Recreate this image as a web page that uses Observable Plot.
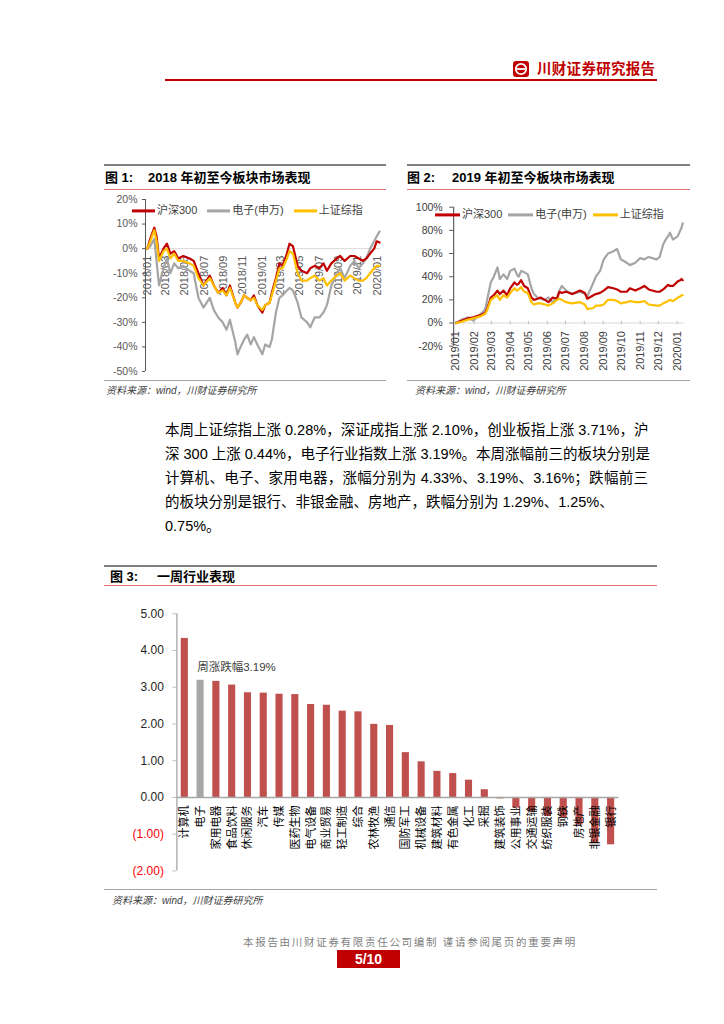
<!DOCTYPE html>
<html lang="zh-CN">
<head>
<meta charset="utf-8">
<title>川财证券研究报告</title>
<script src="https://cdn.jsdelivr.net/npm/d3@7"></script>
<script src="https://cdn.jsdelivr.net/npm/@observablehq/plot@0.6"></script>
<style>
html,body{margin:0;padding:0;background:#fff;}
#page{position:relative;width:724px;height:1024px;overflow:hidden;background:#fff;font-family:"Liberation Sans",Arial,"Noto Sans CJK SC",sans-serif;color:#000;}
.t{position:absolute;white-space:nowrap;line-height:1.2;transform:translateY(-50%);}
.chart{position:absolute;}
.chart svg{overflow:visible;display:block;}
.para{position:absolute;left:165px;width:483px;font-size:14.5px;line-height:1.2;white-space:nowrap;transform:translateY(-50%);}
.just{text-align:justify;text-align-last:justify;}
</style>
</head>
<body>
<div id="page"></div>
<script>
// ---------------- DATA ----------------
const seriesNames = ["沪深300", "电子(申万)", "上证综指"];
const seriesColors = ["#c00000", "#a5a5a5", "#ffc000"];

// Figure 1: cumulative change since start of 2018 (%)
const fig1Dates = ["2018-01-02","2018-01-11","2018-01-24","2018-01-31","2018-02-08","2018-02-22","2018-03-05","2018-03-16","2018-03-28","2018-04-10","2018-04-26","2018-05-16","2018-05-29","2018-06-13","2018-06-29","2018-07-19","2018-08-01","2018-08-15","2018-08-29","2018-09-10","2018-09-21","2018-10-08","2018-10-15","2018-10-25","2018-11-05","2018-11-15","2018-11-26","2018-12-06","2018-12-17","2019-01-02","2019-01-11","2019-01-25","2019-02-01","2019-02-14","2019-02-25","2019-03-07","2019-03-21","2019-03-29","2019-04-09","2019-04-24","2019-05-06","2019-05-24","2019-06-03","2019-06-17","2019-07-02","2019-07-15","2019-07-26","2019-08-09","2019-08-26","2019-09-06","2019-09-20","2019-10-08","2019-10-21","2019-11-04","2019-11-17","2019-11-28","2019-12-10","2019-12-23","2019-12-31","2020-01-09"];
const fig1HS300 = [0,4,8.5,5,-4,0,2,-2,-1,-4,-3,-4,-5,-10,-15,-11,-15,-18,-16,-19,-15,-22,-24,-22,-19,-20,-21,-19,-23,-26,-23,-22,-18,-12,-6,-7,-2,2,1,-7,-9,-10,-8,-7,-8,-6,-9,-6,-4,-3,-5,-3,-3,-4,-5,-4,-2,0,3,2.5];
const fig1Elec = [0,1,4,-5,-15,-8,-4,-10,-6,-8,-7,-9,-10,-20,-24,-20,-25,-28,-30,-33,-29,-38,-43,-40,-37,-35,-39,-36,-39,-43,-39,-40,-37,-26,-20,-19,-17,-16,-17,-22,-28,-30,-32,-28,-28,-26,-23,-15,-10,-8,-12,-7,-5,-8,-6,-4,0,3,5,7];
const fig1SZZZ = [0,3,7.5,3,-5,-1,0,-4,-2,-5,-5,-6,-7,-12,-15,-12,-15,-18,-17,-19,-16,-22,-24,-22,-19,-20,-21,-20,-23,-25,-23,-22,-19,-13,-8,-8,-4,-1,-2,-10,-13,-13,-12,-11,-13,-12,-15,-13,-11,-10,-13,-11,-12,-13,-13,-12,-10,-8,-7,-7];
const fig1XTicks = ["2018-01-01","2018-03-01","2018-05-01","2018-07-01","2018-09-01","2018-11-01","2019-01-01","2019-03-01","2019-05-01","2019-07-01","2019-09-01","2019-11-01","2020-01-01"];
const fig1YTicks = [20,10,0,-10,-20,-30,-40,-50];
const fig1XDomain = ["2017-12-27","2020-01-12"];

// Figure 2: cumulative change since start of 2019 (%)
const fig2Dates = ["2019-01-02","2019-01-11","2019-01-22","2019-01-30","2019-02-12","2019-02-19","2019-02-22","2019-02-28","2019-03-05","2019-03-11","2019-03-15","2019-03-21","2019-03-27","2019-04-01","2019-04-08","2019-04-12","2019-04-15","2019-04-19","2019-04-24","2019-04-30","2019-05-06","2019-05-10","2019-05-16","2019-05-21","2019-05-28","2019-06-03","2019-06-10","2019-06-17","2019-06-21","2019-06-25","2019-07-02","2019-07-12","2019-07-25","2019-08-02","2019-08-06","2019-08-16","2019-08-20","2019-08-27","2019-09-02","2019-09-09","2019-09-18","2019-09-24","2019-09-30","2019-10-10","2019-10-15","2019-10-24","2019-11-01","2019-11-08","2019-11-15","2019-11-28","2019-12-03","2019-12-09","2019-12-13","2019-12-17","2019-12-20","2019-12-25","2020-01-02","2020-01-06","2020-01-08","2020-01-10"];
const fig2HS300 = [0,2,4,5,7,9,12,22,24,28,25,28,24,30,35,33,34,37,32,30,22,20,21,22,20,18,22,21,27,26,27,25,28,26,21,24,25,26,28,31,30,29,27,27,30,28,30,32,29,27,27,29,31,33,32,32,36,37,38,37];
const fig2Elec = [0,3,5,2,8,12,20,35,40,48,38,42,38,45,47,42,40,45,44,42,30,25,22,21,20,22,18,22,28,32,28,25,27,25,23,35,40,45,55,60,62,64,55,52,50,52,56,55,57,55,57,68,72,75,78,72,75,80,82,86];
const fig2SZZZ = [0,1,3,4,6,8,11,20,22,24,20,24,22,26,30,28,29,31,27,26,18,16,17,17,16,15,17,20,21,20,18,17,18,16,12,13,15,15,16,20,20,19,17,18,19,18,18,19,16,15,15,17,18,19,20,19,22,23,24,24];
const fig2XTicks = ["2019-01-01","2019-02-01","2019-03-01","2019-04-01","2019-05-01","2019-06-01","2019-07-01","2019-08-01","2019-09-01","2019-10-01","2019-11-01","2019-12-01","2020-01-01"];
const fig2YTicks = [100,80,60,40,20,0,-20];
const fig2XDomain = ["2018-12-29","2020-01-12"];

// Figure 3: weekly industry performance (%)
const industries = ["计算机","电子","家用电器","食品饮料","休闲服务","汽车","传媒","医药生物","电气设备","商业贸易","轻工制造","综合","农林牧渔","通信","国防军工","机械设备","建筑材料","有色金属","化工","采掘","建筑装饰","公用事业","交通运输","纺织服装","钢铁","房地产","非银金融","银行"];
const weeklyChange = [4.33,3.19,3.16,3.06,2.85,2.84,2.81,2.80,2.53,2.51,2.35,2.33,1.99,1.96,1.22,0.97,0.71,0.65,0.47,0.21,-0.04,-0.29,-0.38,-0.52,-0.55,-0.75,-1.25,-1.29];
const fig3YTicks = [5,4,3,2,1,0,-1,-2];
const highlightName = "电子";
const annotationText = "周涨跌幅3.19%";

// ---------------- PAGE ----------------
const page = document.getElementById("page");
const fontFam = '"Liberation Sans", Arial, "Noto Sans CJK SC", sans-serif';

function txt(s, x, yc, css, cls = "t") {
  const d = document.createElement("div");
  d.className = cls;
  d.textContent = s;
  d.style.cssText += `left:${x}px;top:${yc}px;` + (css || "");
  page.appendChild(d);
  return d;
}
function hline(x1, x2, y, color, w) {
  const d = document.createElement("div");
  d.style.cssText = `position:absolute;left:${x1}px;top:${y - w / 2}px;width:${x2 - x1}px;height:${w}px;background:${color};`;
  page.appendChild(d);
}
function legend(x, yc, swW, gap, itemGap) {
  const d = document.createElement("div");
  d.style.cssText = `position:absolute;left:${x}px;top:${yc}px;transform:translateY(-50%);display:flex;align-items:center;font-size:11px;color:#404040;white-space:nowrap;line-height:1.2;`;
  seriesNames.forEach((n, i) => {
    const sw = document.createElement("span");
    sw.style.cssText = `display:inline-block;width:${swW}px;height:3px;background:${seriesColors[i]};margin-right:${gap}px;`;
    const tx = document.createElement("span");
    tx.textContent = n;
    tx.style.marginRight = (i < seriesNames.length - 1 ? itemGap : 0) + "px";
    d.appendChild(sw); d.appendChild(tx);
  });
  page.appendChild(d);
}
function mount(svg, x, y) {
  const d = document.createElement("div");
  d.className = "chart";
  d.style.left = x + "px"; d.style.top = y + "px";
  d.appendChild(svg);
  page.appendChild(d);
}

// Header
(function header() {
  const d = document.createElement("div");
  d.style.cssText = "position:absolute;left:513px;top:61px;width:16px;height:16px;";
  d.innerHTML = '<svg width="16" height="16" viewBox="0 0 16 16"><rect x="0" y="0" width="16" height="16" rx="3" fill="#c00000"/><circle cx="8" cy="8" r="5.2" fill="none" stroke="#fff" stroke-width="1.8"/><rect x="4" y="7.1" width="8" height="1.8" fill="#fff"/></svg>';
  page.appendChild(d);
})();
txt("川财证券研究报告", 537, 70, "font-size:14.5px;color:#c00000;font-weight:bold;letter-spacing:0.3px;");
hline(165, 657, 80.3, "#c00000", 2);

// Figure frames and titles
function figFrame(x1, x2, titleNo, titleX, title, titleX2, yTop, yTitle, yRed, ySrcLine, ySrc, srcX) {
  hline(x1, x2, yTop, "#7f7f7f", 1.5);
  txt(titleNo, titleX, yTitle, "font-size:13px;font-weight:bold;");
  txt(title, titleX2, yTitle, "font-size:13px;font-weight:bold;");
  hline(x1, x2, yRed, "#e57373", 1);
  hline(x1, x2, ySrcLine, "#a6a6a6", 1);
  txt("资料来源：wind，川财证券研究所", srcX, ySrc, "font-size:10px;font-style:italic;color:#404040;");
}
figFrame(104, 386, "图 1:", 105, "2018 年初至今板块市场表现", 148, 165, 178, 189.3, 380, 391, 106);
figFrame(407, 690, "图 2:", 407, "2019 年初至今板块市场表现", 452, 165, 178, 189.3, 380, 391, 415);
figFrame(104, 657, "图 3:", 110, "一周行业表现", 157, 566, 577, 585.7, 889.5, 901, 112);

// Paragraph
const paraLines = [
  "本周上证综指上涨 0.28%，深证成指上涨 2.10%，创业板指上涨 3.71%，沪",
  "深 300 上涨 0.44%，电子行业指数上涨 3.19%。本周涨幅前三的板块分别是",
  "计算机、电子、家用电器，涨幅分别为 4.33%、3.19%、3.16%；跌幅前三",
  "的板块分别是银行、非银金融、房地产，跌幅分别为 1.29%、1.25%、",
  "0.75%。"
];
paraLines.forEach((s, i) => {
  txt(s, 165, 431 + i * 24, "", i < 3 ? "para just" : "para");
});

// Footer
txt("本报告由川财证券有限责任公司编制 谨请参阅尾页的重要声明", 243, 942, "font-size:10.5px;color:#7f7f7f;letter-spacing:1.7px;");
(function pageNo() {
  const d = document.createElement("div");
  d.style.cssText = "position:absolute;left:337px;top:950px;width:63px;height:18px;background:#c00000;color:#fff;font-weight:bold;font-size:14px;line-height:18px;text-align:center;";
  d.textContent = "5/10";
  page.appendChild(d);
})();

// ---------------- CHARTS ----------------
const fmtMonth = d3.utcFormat("%Y/%m");
const rows = (dates, arr) => dates.map((d, i) => ({date: new Date(d), value: arr[i]}));
const drawOrder = [1, 0, 2]; // gray underneath, then red, yellow on top

function yAxis(ticks, fmt, opts) {
  if (Plot.axisY) return Plot.axisY({ticks, tickFormat: fmt, label: null, ...opts});
  return Plot.text(ticks, {y: d => d, frameAnchor: "left", textAnchor: "end", dx: -((opts.tickSize || 0) + (opts.tickPadding || 0)), text: fmt, fill: opts.fill, fontSize: opts.fontSize});
}

// Figure 1
{
  const xd = fig1XDomain.map(s => new Date(s));
  const ye = d3.extent(fig1YTicks);
  const series = [fig1HS300, fig1Elec, fig1SZZZ];
  const svg = Plot.plot({
    width: 282, height: 190, marginLeft: 41, marginRight: 6, marginTop: 9, marginBottom: 9,
    x: {type: "utc", domain: xd, axis: null},
    y: {domain: ye, axis: null},
    style: {fontFamily: fontFam, fontSize: "10.5px", background: "transparent", overflow: "visible"},
    marks: [
      Plot.ruleY([0], {stroke: "#d9d9d9", strokeWidth: 1}),
      Plot.text(fig1XTicks.map(s => new Date(s)), {x: d => d, y: () => 0, text: d => fmtMonth(d), rotate: -90, textAnchor: "end", dy: 7, fontSize: 11, fill: "#595959"}),
      ...drawOrder.map(i => Plot.line(rows(fig1Dates, series[i]), {x: "date", y: "value", stroke: seriesColors[i], strokeWidth: 2.2, strokeLinejoin: "round"})),
      Plot.ruleX([xd[0]], {y1: () => ye[0], y2: () => ye[1], stroke: "#595959", strokeWidth: 1}),
      yAxis(fig1YTicks, d => d + "%", {tickSize: 3, tickPadding: 5, fontSize: 10.5, fill: "#595959", stroke: "#595959"})
    ]
  });
  mount(svg, 104, 190);
  legend(132, 211, 23, 2, 10);
}

// Figure 2
{
  const xd = fig2XDomain.map(s => new Date(s));
  const ye = d3.extent(fig2YTicks);
  const series = [fig2HS300, fig2Elec, fig2SZZZ];
  const tickDates = fig2XTicks.map(s => new Date(s));
  const svg = Plot.plot({
    width: 286, height: 180, marginLeft: 49.2, marginRight: 6.6, marginTop: 11.7, marginBottom: 29.3,
    x: {type: "utc", domain: xd, axis: null},
    y: {domain: ye, axis: null},
    style: {fontFamily: fontFam, fontSize: "10.5px", background: "transparent", overflow: "visible"},
    marks: [
      Plot.ruleY([0], {stroke: "#d9d9d9", strokeWidth: 1}),
      Plot.ruleX(tickDates, {x: d => d, y1: () => -1.5, y2: () => 1.5, stroke: "#bfbfbf"}),
      Plot.text(tickDates, {x: d => d, y: () => 0, text: d => fmtMonth(d), rotate: -90, textAnchor: "end", dy: 8, fontSize: 11, fill: "#404040"}),
      ...drawOrder.map(i => Plot.line(rows(fig2Dates, series[i]), {x: "date", y: "value", stroke: seriesColors[i], strokeWidth: 2.2, strokeLinejoin: "round"})),
      Plot.ruleX([xd[0]], {y1: () => ye[0], y2: () => ye[1], stroke: "#404040", strokeWidth: 1}),
      yAxis(fig2YTicks, d => d + "%", {tickSize: 4, tickPadding: 7, fontSize: 10.5, fill: "#404040", stroke: "#595959"})
    ]
  });
  mount(svg, 404, 195);
  legend(435, 215, 25, 2, 6);
}

// Figure 3
{
  const W = 553, H = 285, ml = 72.4, mr = 38.5, mt = 13.3, mb = 14.6;
  const step = (W - ml - mr) / industries.length;
  const data = industries.map((n, i) => ({name: n, value: weeklyChange[i]}));
  const ye = d3.extent(fig3YTicks);
  const hi = data.find(d => d.name === highlightName);
  const fmt = d => d < 0 ? `(${(-d).toFixed(2)})` : d.toFixed(2);
  const svg = Plot.plot({
    width: W, height: H, marginLeft: ml, marginRight: mr, marginTop: mt, marginBottom: mb,
    x: {type: "band", domain: industries, paddingInner: 0.55, paddingOuter: 0.275, round: false, axis: null},
    y: {domain: ye, axis: null},
    color: {type: "identity"},
    style: {fontFamily: fontFam, fontSize: "12px", background: "transparent", overflow: "visible"},
    marks: [
      Plot.barY(data, {x: "name", y: "value", fill: d => d.name === highlightName ? "#a6a6a6" : "#c0504d"}),
      Plot.ruleY([0], {stroke: "#a6a6a6", strokeWidth: 1.5}),
      Plot.ruleX([industries[0]], {x: d => d, dx: -step / 2, y1: () => ye[0], y2: () => ye[1], stroke: "#a6a6a6", strokeWidth: 1.3}),
      yAxis(fig3YTicks.filter(v => v >= 0), fmt, {tickSize: 4, tickPadding: 9, fontSize: 12, fill: "#262626", stroke: "#bfbfbf"}),
      yAxis(fig3YTicks.filter(v => v < 0), fmt, {tickSize: 4, tickPadding: 9, fontSize: 12, fill: "#ff0000", stroke: "#bfbfbf"}),
      Plot.text(industries, {x: d => d, y: () => 0, text: d => d, rotate: -90, textAnchor: "end", dy: 8, fontSize: 11, fill: "#000"}),
      Plot.text([{name: hi.name, value: hi.value, label: annotationText}], {x: "name", y: "value", text: "label", textAnchor: "start", dx: -3.4, dy: -13, fontSize: 11.5, fill: "#404040"})
    ]
  });
  mount(svg, 104, 600);
}
</script>
</body>
</html>
